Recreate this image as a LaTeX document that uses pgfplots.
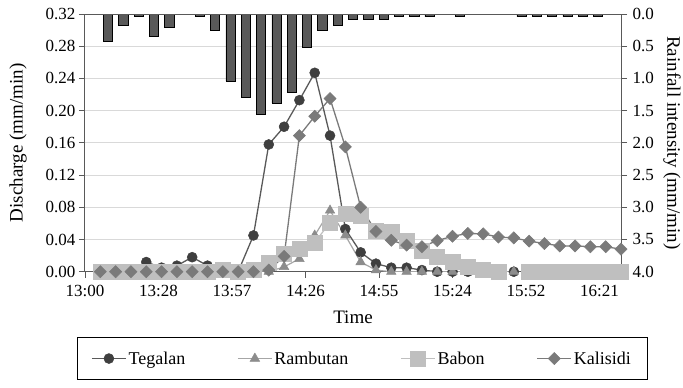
\documentclass[border=0pt]{standalone}
\usepackage{fontspec}
\setmainfont{Liberation Serif}
\usepackage{pgfplots}
\pgfplotsset{compat=1.18}
\usepackage{pgfplotstable}

\definecolor{barfill}{HTML}{595959}
\definecolor{gridc}{HTML}{D9D9D9}
\definecolor{axisc}{HTML}{595959}
\definecolor{teg}{HTML}{3F3F3F}
\definecolor{tegline}{HTML}{595959}
\definecolor{ram}{HTML}{8C8C8C}
\definecolor{ramline}{HTML}{A6A6A6}
\definecolor{bab}{HTML}{BFBFBF}
\definecolor{kal}{HTML}{7A7A7A}

% time in minutes after 13:00
\pgfplotstableread{
t r
9 0.42
15 0.18
21 0.04
27 0.35
33 0.21
45 0.04
51 0.25
57 1.04
63 1.30
69 1.55
75 1.38
81 1.21
87 0.52
93 0.25
99 0.18
105 0.08
111 0.08
117 0.08
123 0.04
129 0.04
135 0.04
147 0.04
171 0.04
177 0.04
183 0.04
189 0.04
195 0.04
201 0.04
}\rain

\pgfplotstableread{
t q
6 0
12 0
18 0
24 0.012
30 0.005
36 0.0075
42 0.018
48 0.0075
54 0
60 0
66 0.045
72 0.158
78 0.180
84 0.213
90 0.247
96 0.169
102 0.053
108 0.024
114 0.010
120 0.005
126 0.005
132 0.002
138 0
144 0
150 0
156 0
162 0
168 0
}\tegalan

\pgfplotstableread{
t q
6 0
12 0
18 0
24 0
30 0
36 0
42 0
48 0
54 0
60 0
66 0
72 0
78 0.006
84 0.016
90 0.045
96 0.076
102 0.045
108 0.012
114 0.002
120 0
126 0
132 0
138 0
144 0
150 0
156 0
162 0
168 0
}\rambutan

\pgfplotstableread{
t q
6 0
12 0
18 0
24 0
30 0
36 0
42 0
48 0
54 0.003
60 0
66 0.002
72 0.011
78 0.022
84 0.028
90 0.0365
96 0.061
102 0.072
108 0.070
114 0.051
120 0.050
126 0.039
132 0.026
138 0.018
144 0.012
150 0.006
156 0.003
162 0
168 nan
174 0
180 0
186 0
192 0
198 0
204 0
210 0
}\babon

\pgfplotstableread{
t q
6 0
12 0
18 0
24 0
30 0
36 0
42 0
48 0
54 0
60 0
66 0
72 0.002
78 0.019
84 0.169
90 0.193
96 0.215
102 0.155
108 0.080
114 0.050
120 0.039
126 0.033
132 0.031
138 0.0386
144 0.044
150 0.0475
156 0.047
162 0.043
168 0.042
174 0.038
180 0.035
186 0.032
192 0.032
198 0.031
204 0.031
210 0.028
}\kalisidi

\begin{document}
\begin{tikzpicture}
% rainfall (secondary, reversed) axis with grid and bars
\begin{axis}[
  name=rainax,
  at={(0,0)}, anchor=south west,
  scale only axis, width=536pt, height=257.7pt,
  xmin=0, xmax=210,
  ymin=0, ymax=4, y dir=reverse,
  xtick=\empty,
  ytick={0,0.5,1,1.5,2,2.5,3,3.5,4},
  ytick pos=right, yticklabel pos=right,
  tick align=outside,
  major tick length=6pt,
  every tick/.style={draw=axisc, line width=0.9pt},
  ymajorgrids,
  grid style={draw=gridc, line width=0.9pt},
  axis line style={draw=none},
  /pgf/number format/assume math mode=true,
  yticklabel style={font=\rmfamily\fontsize{17}{20}\selectfont, /pgf/number format/fixed, /pgf/number format/fixed zerofill, /pgf/number format/precision=1, xshift=2pt},
  ylabel={Rainfall intensity (mm/min)},
  ylabel style={font=\rmfamily\fontsize{19}{22}\selectfont, at={(axis description cs:1.095,0.5)}, anchor=center, rotate=180},
]
\addplot[ybar, bar width=3.6, fill=barfill, draw=black, line width=0.6pt] table[x=t, y=r] {\rain};
\end{axis}

% discharge axis
\begin{axis}[
  name=qax,
  at={(0,0)}, anchor=south west,
  scale only axis, width=536pt, height=257.7pt,
  xmin=0, xmax=210,
  ymin=0, ymax=0.32,
  xtick={0,28.8,57.6,86.4,115.2,144,172.8,201.6},
  xticklabels={13:00,13:28,13:57,14:26,14:55,15:24,15:52,16:21},
  ytick={0,0.04,0.08,0.12,0.16,0.2,0.24,0.28,0.32},
  xtick pos=bottom, ytick pos=left,
  tick align=outside,
  major tick length=6pt,
  every tick/.style={draw=axisc, line width=0.9pt},
  axis line style={draw=axisc, line width=1pt},
  unbounded coords=jump,
  /pgf/number format/assume math mode=true,
  tick label style={font=\rmfamily\fontsize{17}{20}\selectfont},
  yticklabel style={/pgf/number format/fixed, /pgf/number format/fixed zerofill, /pgf/number format/precision=2},
  xticklabel style={yshift=-4pt},
  xlabel={Time},
  ylabel={Discharge (mm/min)},
  label style={font=\rmfamily\fontsize{19}{22}\selectfont},
  xlabel style={at={(axis description cs:0.5,-0.178)}, anchor=center},
  ylabel style={at={(axis description cs:-0.125,0.5)}, anchor=center},
  legend image code/.code={\draw[mark repeat=2,mark phase=2] plot coordinates {(0pt,0pt) (17pt,0pt) (34pt,0pt)};},
  legend columns=4,
  legend style={at={(axis description cs:0.517,-0.337)}, anchor=center,
    draw=black, line width=0.8pt, font=\rmfamily\fontsize{18}{21}\selectfont,
    inner xsep=14pt, inner ysep=12pt,
    /tikz/every even column/.append style={column sep=50pt}},
]
\addplot[draw=tegline, line width=1.3pt, mark=*, mark size=5pt, mark options={fill=teg, draw=teg, line width=0.5pt}] table[x=t, y=q] {\tegalan};
\addlegendentry{Tegalan}
\addplot[draw=ramline, line width=1.2pt, mark=triangle*, mark size=5.5pt, mark options={fill=ram, draw=ram, line width=0.5pt}] table[x=t, y=q] {\rambutan};
\addlegendentry{Rambutan}
\addplot[draw=bab, line width=1.2pt, mark=square*, mark size=7.5pt, mark options={fill=bab, draw=bab, line width=0.5pt}] table[x=t, y=q] {\babon};
\addlegendentry{Babon}
\addplot[draw=kal, line width=1.3pt, mark=square*, mark size=4.3pt, mark options={rotate=45, fill=kal, draw=kal, line width=0.5pt}] table[x=t, y=q] {\kalisidi};
\addlegendentry{Kalisidi}
\draw[draw=axisc, line width=1pt] (rel axis cs:0,1) -- (rel axis cs:1,1);
\end{axis}
\pgfresetboundingbox
\useasboundingbox (-85pt,-116.3pt) rectangle (598pt,271.7pt);
\end{tikzpicture}
\end{document}
